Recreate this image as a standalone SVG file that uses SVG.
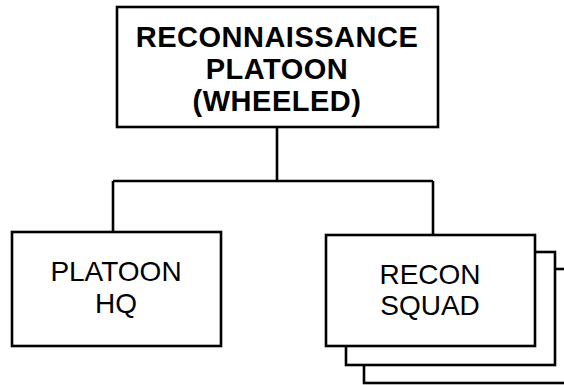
<svg xmlns="http://www.w3.org/2000/svg" width="564" height="385" viewBox="0 0 564 385">
<style>
.box{fill:#fff;stroke:#000;stroke-width:2.6}
.ln{fill:none;stroke:#000;stroke-width:2.6}
.t{font-family:"Liberation Sans",Arial,sans-serif;font-size:28px;text-anchor:middle;fill:#000}
.b{font-weight:bold;font-size:29px;letter-spacing:0.5px}
</style>
<rect width="564" height="385" fill="#fff"/>
<g id="connectors">
<path class="ln" d="M277,127 V181 M113,181 H433 M113,181 V232 M433,181 V235"/>
</g>
<g id="recon-platoon">
<rect class="box" x="117" y="7" width="321" height="120"/>
<text class="t b" x="277" y="47">RECONNAISSANCE</text>
<text class="t b" x="277" y="79">PLATOON</text>
<text class="t b" x="277" y="111">(WHEELED)</text>
</g>
<g id="platoon-hq">
<rect class="box" x="12" y="232" width="209" height="114"/>
<text class="t" x="116" y="281">PLATOON</text>
<text class="t" x="116" y="313">HQ</text>
</g>
<g id="recon-squad">
<rect class="box" x="364" y="269" width="220" height="114"/>
<rect class="box" x="346" y="252" width="209" height="113"/>
<rect class="box" x="326" y="235" width="209" height="111"/>
<text class="t" x="430" y="284">RECON</text>
<text class="t" x="430" y="315">SQUAD</text>
</g>
</svg>
